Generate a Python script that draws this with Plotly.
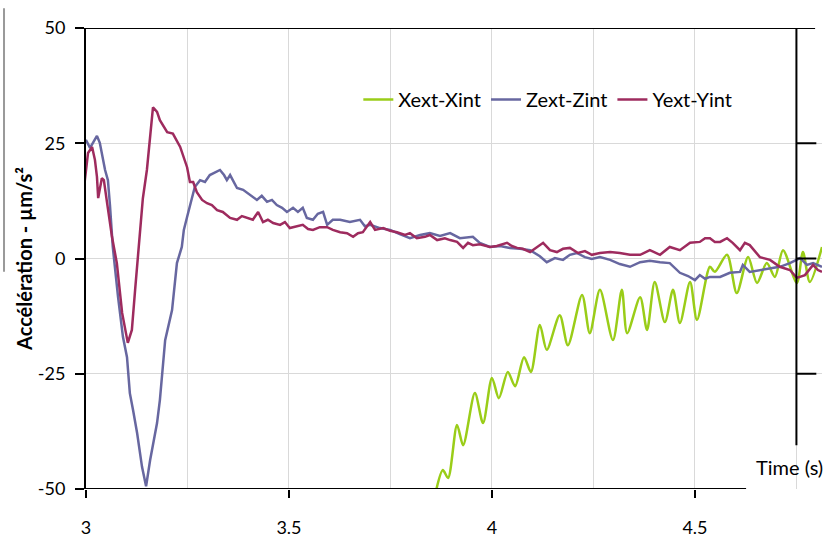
import plotly.graph_objects as go

# ---- data (time in s, acceleration in µm/s²) ----
z_t = [2.985, 2.993, 3.000, 3.010, 3.027, 3.034, 3.047, 3.054, 3.059, 3.066, 3.079, 3.091, 3.101,
       3.108, 3.116, 3.126, 3.138, 3.148, 3.158, 3.175, 3.182, 3.190, 3.195, 3.212, 3.224, 3.236,
       3.241, 3.249, 3.261, 3.268, 3.281, 3.293, 3.305, 3.313, 3.330, 3.340, 3.347, 3.355, 3.372,
       3.387, 3.404, 3.421, 3.433, 3.446, 3.458, 3.470, 3.483, 3.495, 3.510, 3.522, 3.534, 3.544,
       3.559, 3.571, 3.584, 3.594, 3.608, 3.626, 3.650, 3.675, 3.687, 3.700, 3.724, 3.749, 3.773,
       3.798, 3.823, 3.847, 3.872, 3.897, 3.921, 3.953, 3.970, 3.995, 4.020, 4.044, 4.069, 4.094,
       4.118, 4.135, 4.155, 4.175, 4.192, 4.209, 4.229, 4.246, 4.266, 4.291, 4.315, 4.340, 4.365,
       4.389, 4.414, 4.438, 4.463, 4.483, 4.500, 4.512, 4.525, 4.537, 4.562, 4.586, 4.611, 4.618,
       4.635, 4.660, 4.685, 4.709, 4.734, 4.759, 4.776, 4.791, 4.813]
z_v = [16.6, 24.2, 25.7, 24.0, 26.6, 25.1, 19.2, 17.0, 11.6, 2.5, -8.4, -17.0, -21.4,
       -29.2, -32.9, -37.9, -45.2, -49.4, -43.7, -35.7, -30.7, -23.5, -17.7, -11.2, -1.0, 2.5,
       6.2, 9.0, 13.3, 15.5, 17.0, 16.6, 18.1, 18.5, 19.2, 18.1, 17.0, 18.1, 15.3,
       14.9, 13.8, 12.7, 13.6, 12.3, 12.7, 11.6, 11.0, 10.1, 11.0, 10.1, 11.0, 8.8,
       8.4, 9.7, 10.1, 7.3, 8.4, 8.4, 7.9, 8.4, 7.0, 7.3, 6.6, 6.2, 5.3,
       4.4, 5.1, 5.5, 4.9, 5.5, 4.4, 4.7, 3.4, 2.5, 2.7, 2.3, 2.1, 1.8,
       0.5, -0.8, 0.1, -0.3, 0.8, 1.2, 0.3, -0.1, 0.3, -0.3, -1.2, -1.8, -0.8,
       -0.5, -0.8, -1.0, -3.1, -3.8, -4.7, -3.6, -4.4, -4.0, -4.0, -3.1, -2.9, -1.4,
       -2.9, -2.5, -2.1, -1.8, -1.0, 0.1, -1.4, -1.0, -1.8]

y_t = [2.985, 2.993, 3.005, 3.015, 3.022, 3.027, 3.030, 3.039, 3.044, 3.052, 3.064, 3.076, 3.089,
       3.103, 3.113, 3.121, 3.128, 3.135, 3.140, 3.150, 3.158, 3.165, 3.175, 3.182, 3.200, 3.214,
       3.232, 3.249, 3.256, 3.264, 3.273, 3.286, 3.298, 3.310, 3.323, 3.337, 3.355, 3.372, 3.384,
       3.397, 3.411, 3.424, 3.436, 3.448, 3.461, 3.478, 3.490, 3.502, 3.520, 3.534, 3.547, 3.559,
       3.576, 3.594, 3.608, 3.626, 3.643, 3.658, 3.670, 3.682, 3.700, 3.712, 3.732, 3.749, 3.766,
       3.786, 3.798, 3.815, 3.835, 3.847, 3.865, 3.884, 3.897, 3.914, 3.929, 3.941, 3.953, 3.970,
       3.995, 4.012, 4.037, 4.049, 4.062, 4.076, 4.094, 4.111, 4.126, 4.143, 4.160, 4.175, 4.192,
       4.212, 4.229, 4.246, 4.266, 4.291, 4.315, 4.340, 4.365, 4.389, 4.414, 4.438, 4.463, 4.488,
       4.512, 4.525, 4.537, 4.549, 4.562, 4.579, 4.593, 4.611, 4.623, 4.635, 4.660, 4.685, 4.709,
       4.734, 4.751, 4.771, 4.791, 4.803, 4.813]
y_v = [7.7, 14.4, 22.9, 24.2, 21.4, 17.7, 13.1, 17.4, 17.0, 12.0, 4.7, -1.0, -11.8,
       -18.3, -15.5, -6.8, 0.3, 6.2, 13.0, 19.2, 27.2, 32.8, 31.8, 30.0, 27.4, 27.1,
       24.2, 19.8, 16.6, 16.6, 14.4, 12.7, 12.0, 11.6, 10.5, 10.1, 8.8, 8.4, 9.2,
       8.8, 8.4, 10.1, 7.9, 8.4, 7.7, 7.3, 7.9, 6.6, 7.0, 7.3, 6.4, 6.2,
       6.8, 6.8, 6.2, 5.7, 5.5, 4.7, 5.5, 5.7, 7.9, 6.2, 6.6, 6.0, 5.7,
       5.1, 5.5, 4.4, 4.7, 5.1, 4.0, 4.4, 4.0, 3.6, 2.3, 3.4, 2.9, 3.1,
       2.5, 2.7, 3.4, 2.7, 2.3, 2.1, 1.4, 2.5, 3.4, 1.8, 1.4, 2.1, 2.3,
       1.2, 1.6, 0.8, 1.2, 1.4, 1.2, 0.8, 0.8, 1.8, 0.8, 2.5, 1.8, 3.4,
       3.6, 4.4, 4.4, 3.6, 3.6, 4.4, 3.4, 1.8, 3.4, 2.9, 0.3, -0.3, -1.8,
       -2.5, -4.2, -3.6, -1.4, -2.5, -2.9]

x_t = [3.862, 3.879, 3.892, 3.914, 3.929, 3.958, 3.978, 4.000, 4.017, 4.039, 4.057, 4.079, 4.096,
       4.118, 4.135, 4.167, 4.187, 4.222, 4.241, 4.266, 4.298, 4.320, 4.333, 4.365, 4.382, 4.401,
       4.426, 4.446, 4.463, 4.488, 4.505, 4.537, 4.549, 4.579, 4.603, 4.631, 4.653, 4.677, 4.697,
       4.717, 4.751, 4.766, 4.783, 4.813]
x_v = [-50.5, -45.9, -47.6, -36.1, -40.5, -29.2, -35.7, -25.9, -30.3, -24.6, -27.7, -21.4, -24.6,
       -14.4, -19.8, -12.3, -18.8, -7.9, -16.2, -6.8, -17.7, -6.8, -16.2, -8.4, -15.5, -5.1,
       -13.8, -6.8, -14.0, -5.1, -13.3, -1.8, -2.9, 0.8, -7.5, 0.3, -5.3, -1.0, -4.0,
       1.8, -5.3, 1.4, -5.1, 2.5]

x_ticks = [3, 3.5, 4, 4.5]
x_labels = ["3", "3.5", "4", "4.5"]
y_ticks = [-50, -25, 0, 25, 50]
y_labels = ["-50", "-25", "0", "25", "50"]
right_ticks = [25, 0, -25]

FONT = "Lato, Carlito, Calibri, sans-serif"
GREEN = "#9ACD18"
BLUE = "#6767A0"
MAROON = "#9E2B5E"

fig = go.Figure()
fig.add_trace(go.Scatter(x=x_t, y=x_v, name="Xext-Xint", mode="lines",
                         line=dict(color=GREEN, width=2.5, shape="spline", smoothing=0.8)))
fig.add_trace(go.Scatter(x=z_t, y=z_v, name="Zext-Zint", mode="lines",
                         line=dict(color=BLUE, width=2.5)))
fig.add_trace(go.Scatter(x=y_t, y=y_v, name="Yext-Yint", mode="lines",
                         line=dict(color=MAROON, width=2.5)))

shapes = []
shapes.append(dict(type="line", xref="x", yref="y", x0=3, x1=4.796, y0=50, y1=50,
                   line=dict(color="black", width=2), layer="above"))
shapes.append(dict(type="line", xref="x", yref="y", x0=3, x1=4.626, y0=-50, y1=-50,
                   line=dict(color="black", width=2), layer="above"))
shapes.append(dict(type="line", xref="x", yref="y", x0=4.75, x1=4.75, y0=50, y1=-40.5,
                   line=dict(color="black", width=2), layer="above"))
for v in right_ticks:
    shapes.append(dict(type="line", xref="x", yref="y", x0=4.75, x1=4.799, y0=v, y1=v,
                       line=dict(color="black", width=2), layer="above"))
shapes.append(dict(type="line", xref="paper", yref="paper", x0=-0.1114, x1=-0.1114,
                   y0=1.043, y1=0.471, line=dict(color="#9a9a9a", width=2)))

fig.update_layout(
    width=832, height=539,
    margin=dict(l=86, r=10, t=28, b=50),
    paper_bgcolor="white", plot_bgcolor="white",
    font=dict(family=FONT, size=18, color="black"),
    showlegend=True,
    legend=dict(orientation="h", x=0.37, y=0.845, xanchor="left", yanchor="middle",
                bgcolor="rgba(0,0,0,0)", font=dict(size=20), itemwidth=30,
                tracegroupgap=0),
    xaxis=dict(range=[3, 4.813], tickvals=x_ticks, ticktext=x_labels,
               ticks="outside", ticklen=8, tickwidth=2, tickcolor="black",
               showline=False, showgrid=True, gridcolor="#d9d9d9", gridwidth=1,
               zeroline=False, ticklabelstandoff=14, automargin=False,
               minor=dict(dtick=0.25, tick0=3, showgrid=True, gridcolor="#d9d9d9",
                          gridwidth=1, ticks="")),
    yaxis=dict(range=[-50, 50], tickvals=y_ticks, ticktext=y_labels, ticks="outside",
               ticklen=9, tickwidth=2, automargin=False,
               tickcolor="black", showline=True, linecolor="black", linewidth=2,
               showgrid=True, gridcolor="#d9d9d9", gridwidth=1, zeroline=False,
               ticklabelstandoff=6),
    shapes=shapes,
    annotations=[
        dict(text="<b>Accélération - µm/s²</b>", xref="paper", yref="paper",
             x=-0.085, y=0.5, textangle=-90, showarrow=False,
             font=dict(family=FONT, size=20), xanchor="center", yanchor="middle"),
        dict(text="Time (s)", xref="paper", yref="paper", x=0.9565, y=0.048,
             showarrow=False, font=dict(family=FONT, size=20),
             xanchor="center", yanchor="middle"),
    ],
)

fig.write_html("out.html", config={"displayModeBar": False})
